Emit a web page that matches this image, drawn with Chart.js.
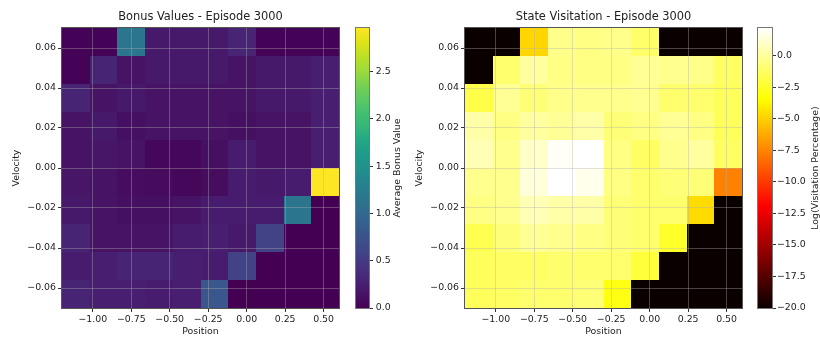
<!DOCTYPE html>
<html><head><meta charset="utf-8">
<script src="https://cdn.jsdelivr.net/npm/chart.js@4.4.0/dist/chart.umd.min.js"></script>
<style>
html,body{margin:0;padding:0;background:#fff;width:820px;height:341px;overflow:hidden}
.box{position:absolute;top:0;height:341px}
</style></head><body>
<div class="box" style="left:0;width:341px"><canvas id="bonus"></canvas></div>
<div class="box" style="left:340px;width:80px"><canvas id="bonusCb"></canvas></div>
<div class="box" style="left:403px;width:341px"><canvas id="visit"></canvas></div>
<div class="box" style="left:740px;width:80px"><canvas id="visitCb"></canvas></div>
<script>
// ---- data ----
const positionEdges = [-1.2, -1.02, -0.84, -0.66, -0.48, -0.3, -0.12, 0.06, 0.24, 0.42, 0.6];
const velocityEdges = [0.07, 0.056, 0.042, 0.028, 0.014, 0.0, -0.014, -0.028, -0.042, -0.056, -0.07]; // top -> bottom
const positionTicks = [-1.0, -0.75, -0.5, -0.25, 0.0, 0.25, 0.5];
const velocityTicks = [-0.06, -0.04, -0.02, 0.0, 0.02, 0.04, 0.06];
const bonusTicks = [0.0, 0.5, 1.0, 1.5, 2.0, 2.5];
const visitTicks = [-20.0, -17.5, -15.0, -12.5, -10.0, -7.5, -5.0, -2.5, 0.0];
const bonusRange = [0, 2.96];
const visitRange = [-20, 2.22];
const titles = ['Bonus Values - Episode 3000', 'State Visitation - Episode 3000'];
const axisLabels = {x: 'Position', y: 'Velocity', bonus: 'Average Bonus Value', visit: 'Log(Visitation Percentage)'};

// rows: top (velocity 0.07) -> bottom (velocity -0.07); columns: position -1.2 -> 0.6
const bonusValues = [
  [0.02, 0.02, 1.15, 0.20, 0.20, 0.20, 0.30, 0.02, 0.02, 0.02],
  [0.02, 0.30, 0.15, 0.20, 0.20, 0.20, 0.15, 0.20, 0.20, 0.25],
  [0.30, 0.15, 0.20, 0.15, 0.15, 0.15, 0.15, 0.20, 0.20, 0.25],
  [0.15, 0.20, 0.12, 0.15, 0.15, 0.15, 0.12, 0.15, 0.15, 0.25],
  [0.15, 0.17, 0.15, 0.05, 0.05, 0.12, 0.22, 0.15, 0.15, 0.25],
  [0.17, 0.15, 0.10, 0.08, 0.05, 0.10, 0.22, 0.20, 0.22, 2.96],
  [0.20, 0.15, 0.12, 0.12, 0.15, 0.22, 0.22, 0.22, 1.15, 0.00],
  [0.30, 0.15, 0.15, 0.15, 0.22, 0.25, 0.20, 0.58, 0.00, 0.00],
  [0.22, 0.25, 0.30, 0.30, 0.25, 0.22, 0.58, 0.00, 0.00, 0.00],
  [0.30, 0.25, 0.25, 0.22, 0.25, 0.80, 0.00, 0.00, 0.00, 0.00]
];
const visitValues = [
  [-20, -20, -4.8, -0.4, -0.5, -0.4, -1.1, -20, -20, -20],
  [-20, -1.0, 0.1, -0.5, -0.5, -0.5, -0.1, -0.3, -0.4, -1.2],
  [-1.8, -0.1, -0.8, -0.4, -0.3, -0.3, -0.2, -1.0, -1.0, -1.4],
  [0.3, -0.5, 0.1, -0.1, 0.3, -0.8, -0.5, -0.1, -0.5, -1.4],
  [0.6, -0.3, 1.0, 2.0, 2.22, -0.5, -1.2, -0.3, 0.1, -1.2],
  [-0.3, -0.3, 1.4, 2.22, 1.8, -0.5, -1.0, -0.8, -0.8, -7.6],
  [-0.5, -0.3, 0.6, 0.3, 0.3, -0.8, -1.0, -1.0, -4.6, -20],
  [-1.6, -0.8, -0.1, -0.3, -0.5, -0.8, -1.0, -2.5, -20, -20],
  [-1.4, -1.2, -1.2, -1.0, -1.0, -1.0, -2.1, -20, -20, -20],
  [-1.4, -1.2, -1.0, -1.0, -0.8, -3.0, -20, -20, -20, -20]
];

// ---- colormaps ----
const viridisStops = ['#440154','#471365','#482475','#463480','#414487','#3b528b','#355f8d','#2f6c8e','#2a788e','#25848e','#21918c','#1e9b8a','#22a884','#35b779','#44bf70','#5ec962','#7ad151','#9fda3a','#bddf26','#dfe318','#fde725'];
function hex(h){return [parseInt(h.slice(1,3),16),parseInt(h.slice(3,5),16),parseInt(h.slice(5,7),16)];}
const vir = viridisStops.map(hex);
function clamp(f){return Math.max(0, Math.min(1, f));}
function viridis(f){
  f = clamp(f); const p = f*(vir.length-1); const i = Math.min(Math.floor(p), vir.length-2); const t = p-i;
  const c = vir[i].map((a,k)=>Math.round(a+(vir[i+1][k]-a)*t));
  return `rgb(${c[0]},${c[1]},${c[2]})`;
}
function hot(f){
  f = clamp(f);
  const r = f < 0.365079 ? 0.0416 + (1-0.0416)*f/0.365079 : 1;
  const g = clamp((f-0.365079)/(0.746032-0.365079));
  const b = clamp((f-0.746032)/(1-0.746032));
  return `rgb(${Math.round(r*255)},${Math.round(g*255)},${Math.round(b*255)})`;
}

// ---- styles ----
const FONT = 'DejaVu Sans';
const TXT = '#222';
const GRID = 'rgba(176,176,176,0.38)';
const TICKC = '#333';
const FRAME = '#555';
const small = {family: FONT, size: 9.4};
function fmt(v, d){ const s = Math.abs(v).toFixed(d); return (v < -1e-9 ? '\u2212' : '') + s; }

function cellsPlugin(values, range, cmap){
  return {
    id: 'cells',
    beforeDraw(chart){
      const {ctx, scales:{x, y}} = chart;
      chart.data.datasets[0].data.forEach(p => {
        const l = Math.round(x.getPixelForValue(p.x0)), r = Math.round(x.getPixelForValue(p.x1));
        const t = Math.round(y.getPixelForValue(p.y1)), b = Math.round(y.getPixelForValue(p.y0));
        ctx.fillStyle = cmap((p.v - range[0])/(range[1]-range[0]));
        ctx.fillRect(l, t, r-l, b-t);
      });
    },
    afterDraw(chart){
      const {ctx, chartArea:a} = chart;
      ctx.save(); ctx.strokeStyle = FRAME; ctx.lineWidth = 1;
      ctx.strokeRect(Math.round(a.left)-0.5, Math.round(a.top)-0.5, Math.round(a.right-a.left)+1, Math.round(a.bottom-a.top)+1);
      ctx.restore();
    }
  };
}

function heatmap(id, title, values, range, cmap){
  const data = [];
  values.forEach((row, r) => row.forEach((v, c) => data.push({
    x: (positionEdges[c]+positionEdges[c+1])/2, y: (velocityEdges[r]+velocityEdges[r+1])/2,
    x0: positionEdges[c], x1: positionEdges[c+1], y0: velocityEdges[r+1], y1: velocityEdges[r], v
  })));
  return new Chart(document.getElementById(id), {
    type: 'scatter',
    data: {datasets: [{data, pointRadius: 0, pointHoverRadius: 0}]},
    options: {
      responsive: true, maintainAspectRatio: false, animation: false, events: [],
      layout: {padding: {top: 0, right: 2, bottom: 0, left: 0}},
      plugins: {
        legend: {display: false}, tooltip: {enabled: false},
        title: {display: true, text: title, fullSize: false, color: TXT,
                font: {family: FONT, size: 11.4, weight: 'normal'}, padding: {top: 9.86, bottom: 4.46}}
      },
      scales: {
        x: {type: 'linear', min: -1.2, max: 0.6,
            afterBuildTicks: s => { s.ticks = positionTicks.map(v => ({value: v})); },
            afterFit: s => { s.height = 33; },
            ticks: {callback: v => fmt(v, 2), color: TXT, font: small, padding: 1.5, maxRotation: 0, autoSkip: false},
            grid: {color: GRID, tickColor: TICKC, tickLength: 4, lineWidth: 1},
            border: {display: false},
            title: {display: true, text: axisLabels.x, color: TXT, font: small, padding: {top: 0, bottom: 3.4}}},
        y: {type: 'linear', min: -0.07, max: 0.07,
            afterBuildTicks: s => { s.ticks = velocityTicks.map(v => ({value: v})); },
            afterFit: s => { s.width = 62; },
            ticks: {callback: v => fmt(v, 2), color: TXT, font: small, padding: 2, autoSkip: false},
            grid: {color: GRID, tickColor: TICKC, tickLength: 4, lineWidth: 1},
            border: {display: false},
            title: {display: true, text: axisLabels.y, color: TXT, font: small, padding: {top: 11.4, bottom: 0}}}
      }
    },
    plugins: [cellsPlugin(values, range, cmap)]
  });
}

function colorbar(id, range, ticks, label, cmap, g){
  return new Chart(document.getElementById(id), {
    type: 'scatter',
    data: {datasets: []},
    options: {
      responsive: true, maintainAspectRatio: false, animation: false, events: [],
      layout: {padding: {top: 28, bottom: 33, left: g.left, right: 0}},
      plugins: {legend: {display: false}, tooltip: {enabled: false}, title: {display: false}},
      scales: {
        x: {display: false, min: 0, max: 1},
        y: {position: 'right', type: 'linear', min: range[0], max: range[1],
            afterBuildTicks: s => { s.ticks = ticks.map(v => ({value: v})); },
            afterFit: s => { s.width = g.axisWidth; },
            ticks: {callback: v => fmt(v, 1), color: TXT, font: small, padding: g.pad, autoSkip: false},
            grid: {drawOnChartArea: false, tickColor: TICKC, tickLength: 4},
            border: {display: false}}
      }
    },
    plugins: [{
      id: 'cbar',
      beforeDraw(chart){
        const {ctx, chartArea: a} = chart;
        const H = a.bottom - a.top;
        for (let i = 0; i < H; i++) {
          ctx.fillStyle = cmap((H - i - 0.5)/H);
          ctx.fillRect(a.left, a.top + i, a.right - a.left, 1);
        }
      },
      afterDraw(chart){
        const {ctx, chartArea: a} = chart;
        ctx.save();
        ctx.strokeStyle = '#777'; ctx.lineWidth = 1;
        ctx.strokeRect(Math.round(a.left)-0.5, Math.round(a.top)-0.5, Math.round(a.right-a.left)+1, Math.round(a.bottom-a.top)+1);
        ctx.fillStyle = TXT; ctx.font = `9.4px "${FONT}"`;
        ctx.textAlign = 'center'; ctx.textBaseline = 'middle';
        ctx.translate(g.labelX, (a.top + a.bottom)/2);
        ctx.rotate(-Math.PI/2);
        ctx.fillText(label, 0, 0);
        ctx.restore();
      }
    }]
  });
}

heatmap('bonus', titles[0], bonusValues, bonusRange, viridis);
colorbar('bonusCb', bonusRange, bonusTicks, axisLabels.bonus, viridis, {left: 16, axisWidth: 51, pad: 2.7, labelX: 58});
heatmap('visit', titles[1], visitValues, visitRange, hot);
colorbar('visitCb', visitRange, visitTicks, axisLabels.visit, hot, {left: 18, axisWidth: 48, pad: 1, labelX: 76});
</script>
</body></html>
